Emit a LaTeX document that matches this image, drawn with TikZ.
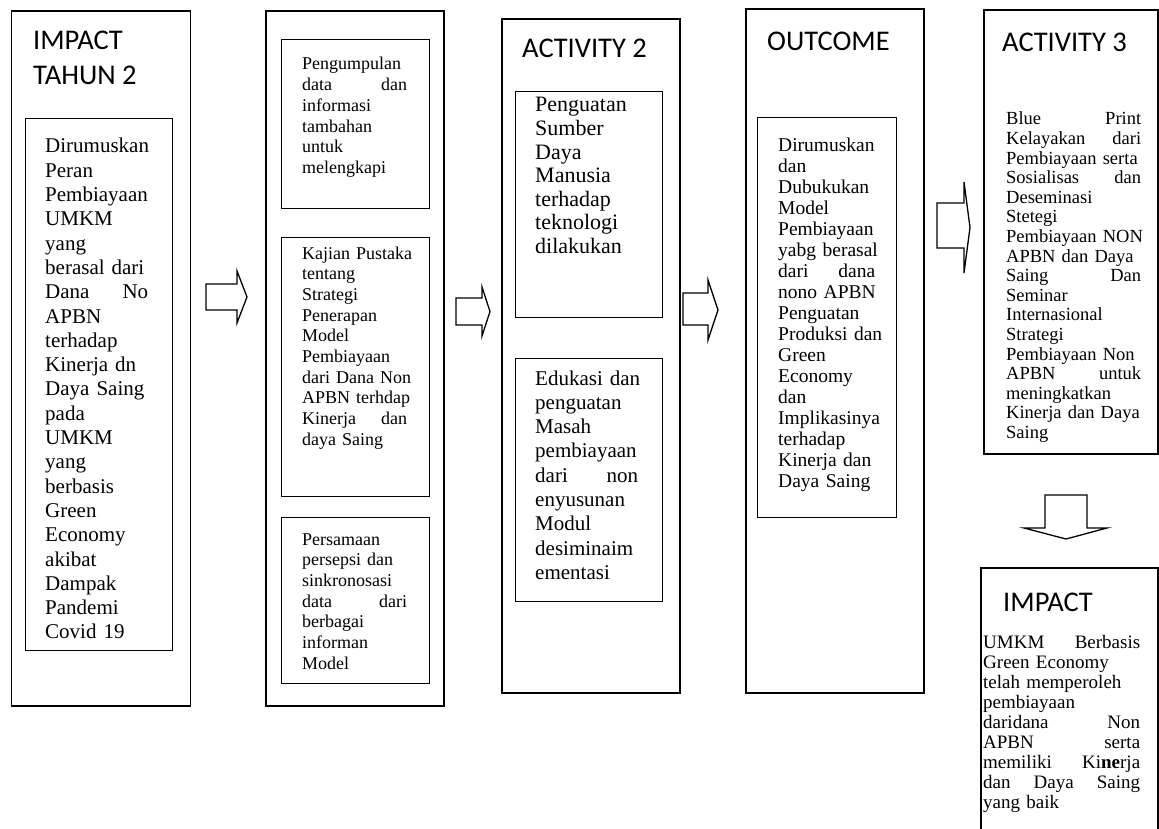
\documentclass[tikz,border=0pt]{standalone}
\usepackage{fontspec}
\setmainfont{Liberation Serif}
\newfontfamily\titlefont{Carlito}
\hyphenpenalty=10000
\exhyphenpenalty=10000
\begin{document}
\begin{tikzpicture}[x=1pt,y=-1pt,
  outer/.style={draw, line width=1.6pt, inner sep=0pt, anchor=north west},
  inner/.style={draw, line width=1.4pt, inner sep=0pt, anchor=north west},
  blk/.style={draw, line width=1.3pt, line join=miter, fill=white},
  txt/.style={anchor=base west, inner sep=0pt, align=left},
  ttl/.style={anchor=base west, inner sep=0pt, font={\titlefont\fontsize{28.5}{35}\selectfont}},
  fA/.style={font={\fontsize{21}{24.3}\selectfont}},
  fA2/.style={font={\fontsize{22}{23.6}\selectfont}},
  fB/.style={font={\fontsize{18}{20.7}\selectfont}},
  fC/.style={font={\fontsize{19.5}{21}\selectfont}},
  fD/.style={font={\fontsize{18.5}{19.6}\selectfont}},
  fE/.style={font={\fontsize{19}{20}\selectfont}}]
\useasboundingbox (0,0) rectangle (1159,829);
\fill[white] (0,0) rectangle (1159,829);

% column 1
\node[outer, minimum width=179, minimum height=695] (b1) at (10.5,10) {};
\node[inner, minimum width=147, minimum height=532] (b1a) at (25,118) {};
\node[ttl] (t1) at (33,50) {IMPACT};
\node[ttl] (t1b) at (33,85) {TAHUN 2};
\node[txt, fA, text width=103] (x1) at (45,153) {Dirumuskan\\ Peran\\ Pembiayaan\\ UMKM\\ yang\\ berasal~dari\\ Dana\hfill No\\ APBN\\ terhadap\\ Kinerja~dn\\ Daya~Saing\\ pada\\ UMKM\\ yang\\ berbasis\\ Green\\ Economy\\ akibat\\ Dampak\\ Pandemi\\ Covid~19};

% column 2
\node[outer, minimum width=178, minimum height=695] (b2) at (265,10) {};
\node[inner, minimum width=148, minimum height=169] (b2a) at (281,39) {};
\node[inner, minimum width=148, minimum height=259] (b2b) at (281,237) {};
\node[inner, minimum width=148, minimum height=166] (b2c) at (281,517) {};
\node[txt, fB, text width=105] (x2a) at (302,70) {Pengumpulan\\ data\hfill dan\\ informasi\\ tambahan\\ untuk\\ melengkapi};
\node[txt, fB, text width=105] (x2b) at (302,259) {Kajian~Pustaka\\ tentang\\ Strategi\\ Penerapan\\ Model\\ Pembiayaan\\ dari~Dana~Non\\ APBN~terhdap\\ Kinerja\hfill dan\\ daya~Saing};
\node[txt, fB, text width=105] (x2c) at (302,545) {Persamaan\\ persepsi~dan\\ sinkronosasi\\ data\hfill dari\\ berbagai\\ informan\\ Model};

% column 3
\node[outer, minimum width=178, minimum height=674] (b3) at (501,18) {};
\node[ttl] (t3) at (522,58) {ACTIVITY 2};
\node[inner, minimum width=147, minimum height=226] (b3a) at (515,91) {};
\node[inner, minimum width=147, minimum height=243] (b3b) at (515,358) {};
\node[txt, fA2, text width=103] (x3a) at (535,112) {Penguatan\\ Sumber\\ Daya\\ Manusia\\ terhadap\\ teknologi\\ dilakukan};
\node[txt, fA, text width=103] (x3b) at (535,385) {Edukasi~dan\\ penguatan\\ Masah\\ pembiayaan\\ dari\hfill non\\ enyusunan\\ Modul\\ desiminaim\\ ementasi};

% column 4
\node[outer, minimum width=178, minimum height=684] (b4) at (745,8) {};
\node[ttl] (t4) at (767,51) {OUTCOME};
\node[inner, minimum width=139, minimum height=400] (b4a) at (757,117) {};
\node[txt, fC, text width=97] (x4) at (778,152) {Dirumuskan\\ dan\\ Dubukukan\\ Model\\ Pembiayaan\\ yabg~berasal\\ dari\hfill dana\\ nono~APBN\\ Penguatan\\ Produksi~dan\\ Green\\ Economy\\ dan\\ Implikasinya\\ terhadap\\ Kinerja~dan\\ Daya~Saing};

% column 5
\node[outer, minimum width=174, minimum height=444] (b5) at (983,9) {};
\node[ttl] (t5) at (1002,52) {ACTIVITY 3};
\node[txt, fD, text width=135] (x5) at (1006,125) {Blue\hfill Print\\ Kelayakan\hfill dari\\ Pembiayaan~serta\\ Sosialisas\hfill dan\\ Deseminasi\\ Stetegi\\ Pembiayaan~NON\\ APBN~dan~Daya\\ Saing\hfill Dan\\ Seminar\\ Internasional\\ Strategi\\ Pembiayaan~Non\\ APBN\hfill untuk\\ meningkatkan\\ Kinerja~dan~Daya\\ Saing};

\node[outer, minimum width=177, minimum height=290] (b6) at (980,567) {};
\node[ttl] (t6) at (1003,611) {IMPACT};
\node[txt, fE, text width=157] (x6) at (983,648) {UMKM\hfill Berbasis\\ Green~Economy\\ telah~memperoleh\\ pembiayaan\\ daridana\hfill Non\\ APBN\hfill serta\\ memiliki\hfill Ki\textbf{ne}rja\\ dan\hfill Daya\hfill Saing\\ yang~baik};

% block arrows
\draw[blk] (206,284) -- (237,284) -- (237,271) -- (247,297) -- (237,323) -- (237,310) -- (206,310) -- cycle;
\draw[blk] (456,298) -- (482,298) -- (482,287) -- (490,311.5) -- (482,336) -- (482,325) -- (456,325) -- cycle;
\draw[blk] (683,293) -- (708,293) -- (708,280) -- (718,310) -- (708,340) -- (708,325) -- (683,325) -- cycle;
\draw[blk] (937,203) -- (964,203) -- (964,182) -- (970,227.5) -- (964,273) -- (964,248) -- (937,248) -- cycle;
\draw[blk] (1045,495) -- (1087,495) -- (1087,528) -- (1107,528) -- (1066,539) -- (1024,528) -- (1045,528) -- cycle;
\end{tikzpicture}
\end{document}
